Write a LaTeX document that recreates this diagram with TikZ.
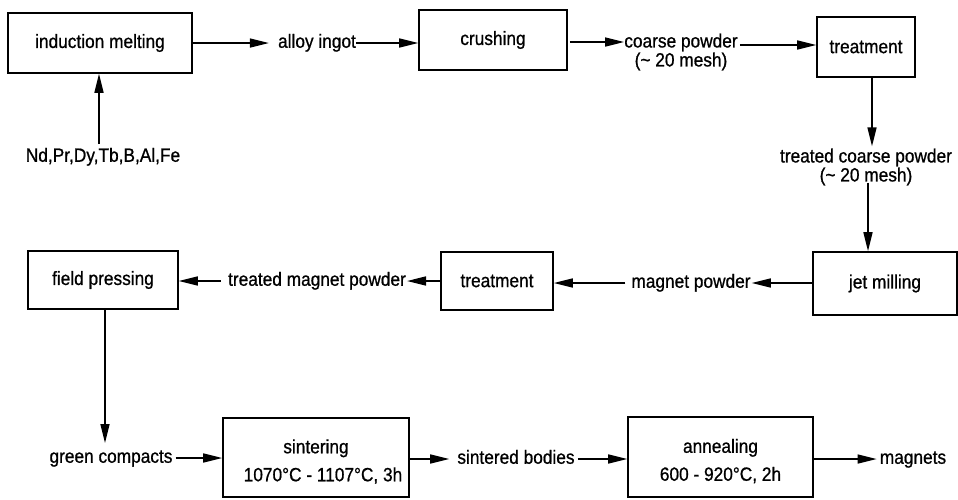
\documentclass[tikz,border=0pt]{standalone}
\usepackage{fontspec}
\setmainfont[FakeStretch=0.9,FakeBold=0.8]{Liberation Sans}
\usetikzlibrary{arrows.meta}
\begin{document}
\begin{tikzpicture}[x=1pt,y=-1pt,
  box/.style={draw, line width=1.6pt, inner sep=0pt, align=center,
    font=\fontsize{19.2}{20}\selectfont},
  txt/.style={inner sep=0pt, font=\fontsize{19.2}{20}\selectfont,
    text height=13.5pt, text depth=4pt},
  txt2/.style={inner sep=0pt, align=center, font=\fontsize{19.2}{19}\selectfont},
  arr/.style={line width=1.5pt, -{Triangle[length=19pt,width=9pt]}},
  ln/.style={line width=1.5pt}]
\useasboundingbox (0,0) rectangle (958,499);

% process steps
\node[box, minimum width=184pt, minimum height=60pt] (melt)   at (100,43)   {induction melting};
\node[box, minimum width=148pt, minimum height=60pt] (crush)  at (493,40)   {crushing};
\node[box, minimum width=98pt,  minimum height=60pt] (treatA) at (866,47)   {treatment};
\node[box, minimum width=144pt, minimum height=63pt] (jet)    at (885,283.5){jet milling};
\node[box, minimum width=112pt, minimum height=58pt] (treatB) at (497,281)  {treatment};
\node[box, minimum width=150pt, minimum height=58pt] (press)  at (103,280)  {field pressing};
\node[box, minimum width=186pt, minimum height=79pt] (sinter) at (316,457.5)
  {\rule{0pt}{22pt}sintering\\[8pt]\hspace*{14pt}1070°C - 1107°C, 3h};
\node[box, minimum width=185pt, minimum height=80pt] (anneal) at (720.5,457)
  {\rule{0pt}{22pt}annealing\\[8pt]600 - 920°C, 2h};

% intermediate products
\node[txt]  (elem)   at (103,157) {Nd,Pr,Dy,Tb,B,Al,Fe};
\node[txt]  (ingot)  at (317,43)  {alloy ingot};
\node[txt2] (cp)     at (681,52)  {coarse powder\\(\textasciitilde{} 20 mesh)};
\node[txt2] (tcp)    at (866,167) {treated coarse powder\\(\textasciitilde{} 20 mesh)};
\node[txt]  (mp)     at (691,283) {magnet powder};
\node[txt]  (tmp)    at (317,281) {treated magnet powder};
\node[txt]  (green)  at (111,458) {green compacts};
\node[txt]  (sb)     at (516,459) {sintered bodies};
\node[txt]  (mag)    at (913,459) {magnets};

% flow
\draw[arr] ([xshift=-1pt,yshift=4pt]elem.north -| melt.south) -- ([xshift=-1pt]melt.south);
\draw[arr] (melt.east) -- ([xshift=-9pt]ingot.west);
\draw[arr] (ingot.east) -- (ingot.east -| crush.west);
\draw[arr] ([xshift=2pt,yshift=-2pt]crush.east) -- ([yshift=-2pt]crush.east -| cp.west);
\draw[arr] ([xshift=2pt,yshift=2pt]cp.east |- treatA.west) -- ([yshift=2pt]treatA.west);
\draw[arr] ([xshift=6pt]treatA.south) -- ([xshift=6pt,yshift=2pt]treatA.south |- tcp.north);
\draw[arr] ([xshift=2pt,yshift=3pt]tcp.south) -- ([xshift=2pt]tcp.south |- jet.north);
\draw[arr] (jet.west |- mp.east) -- ([xshift=1pt]mp.east);
\draw[arr] ([xshift=-6pt]mp.west) -- (mp.west -| treatB.east);
\draw[arr] (treatB.west |- tmp.east) -- ([xshift=1pt]tmp.east);
\draw[arr] ([xshift=-7pt]tmp.west) -- (tmp.west -| press.east);
\draw[arr] ([xshift=2pt]press.south) -- ([xshift=2pt,yshift=6pt]press.south |- green.north);
\draw[arr] ([xshift=3pt]green.east) -- (green.east -| sinter.west);
\draw[arr] (sinter.east |- sb.west) -- ([xshift=-8pt]sb.west);
\draw[arr] ([xshift=3pt]sb.east) -- (sb.east -| anneal.west);
\draw[arr] (anneal.east |- mag.west) -- ([xshift=-3pt]mag.west);
\end{tikzpicture}
\end{document}
